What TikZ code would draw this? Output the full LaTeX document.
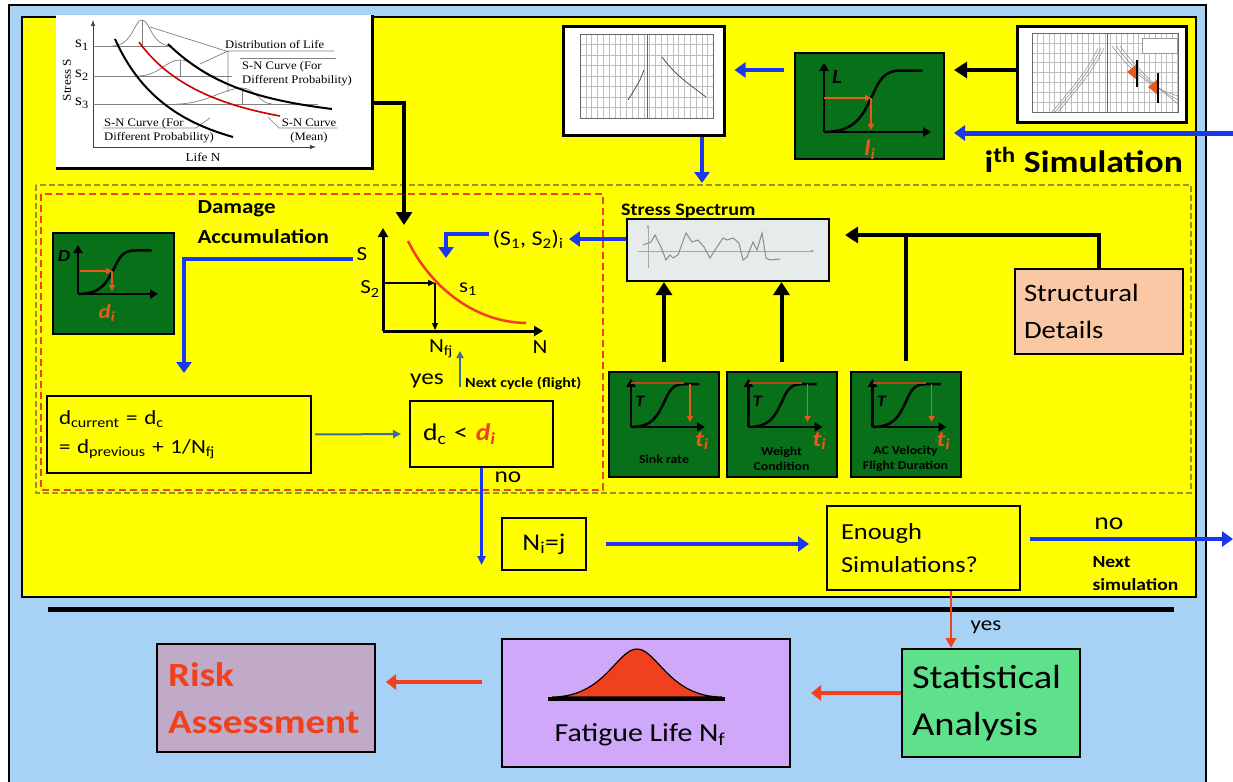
\documentclass[tikz,border=0pt]{standalone}
\usepackage{fontspec}
\setmainfont{Carlito}[FakeStretch=1.15]
\newfontfamily\chartfont{Liberation Serif}[FakeStretch=1.1]
\usetikzlibrary{arrows.meta,calc,positioning}

\definecolor{slideblue}{RGB}{168,210,245}
\definecolor{slideyellow}{RGB}{255,255,0}
\definecolor{plotgreen}{RGB}{8,112,24}
\definecolor{arrowblue}{RGB}{25,55,235}
\definecolor{steelblue2}{RGB}{60,110,150}
\definecolor{redorange}{RGB}{240,64,30}
\definecolor{peach}{RGB}{250,200,165}
\definecolor{lavender}{RGB}{208,168,250}
\definecolor{mauve}{RGB}{192,170,200}
\definecolor{statgreen}{RGB}{95,225,140}
\definecolor{specgrey}{RGB}{230,235,235}
\definecolor{olivedash}{RGB}{150,150,40}
\definecolor{markorange}{RGB}{230,90,30}

\newcommand{\fsz}[2]{\fontsize{#1}{#2}\selectfont}

\tikzset{
  box/.style={draw,line width=2pt,inner sep=0pt},
  greenbox/.style={box,fill=plotgreen},
  bluearrow/.style={draw=arrowblue,line width=4.5pt,-{Triangle[length=11pt,width=15pt]}},
  blackarrow/.style={draw=black,line width=4pt,-{Triangle[length=13pt,width=16pt]}},
  redarrow/.style={draw=redorange,line width=4.5pt,-{Triangle[length=10pt,width=15pt]}},
  markarrow/.style={draw=markorange,line width=1.5pt,-{Triangle[length=6pt,width=6pt]}},
  pics/scurve/.style={code={
    \draw[line width=2.5pt,-{Triangle[length=8pt,width=9pt]}] (0,0) -- (100,0);
    \draw[line width=2.5pt,-{Triangle[length=8pt,width=9pt]}] (0,0) -- (0,-72);
    \draw[line width=2.5pt] (0,0) .. controls (30,0) and (36,-18) .. (44,-35)
      .. controls (52,-55) and (56,-64) .. (72,-64) -- (92,-64);
  }}
}

\begin{document}
\begin{tikzpicture}[x=1pt,y=-1pt]
\useasboundingbox (0,0) rectangle (1233,781);
\fill[white] (0,0) rectangle (1233,781);
% slide frame
\draw[fill=slideblue,line width=1.5pt] (9,5) rectangle (1206,800);
\draw[fill=slideyellow,line width=2.5pt] (22,17) rectangle (1196,597);
\draw[line width=5pt] (48,609) -- (1174,609);
\draw[olivedash,line width=2.5pt,dash pattern=on 6pt off 3pt] (36,185) rectangle (1191,493);
\draw[redorange,line width=1.8pt,dash pattern=on 7pt off 4pt] (41,194) rectangle (603,490);

% S-N curve picture
\node[fill=white,inner sep=0pt,minimum width=316pt,minimum height=153pt] (snimg) at (214,91.5) {};
\draw[line width=3pt] (snimg.north east) -- (snimg.south east) -- (snimg.south west);
\begin{scope}[color=black!50,line width=0.7pt]
  \draw[black!75,-{Latex[length=6pt]}] (93,147) -- (93,20);
  \draw[black!75,-{Latex[length=6pt]}] (93,147) -- (316,147);
  \draw (93,46) -- (172,46) (93,76) -- (232,76) (93,104) -- (318,104);
  \draw (112,46) .. controls (133,46) and (134,20) .. (142,20) .. controls (150,20) and (151,46) .. (172,46);
  \draw (142,20) -- (142,46);
  \draw (137,76) .. controls (160,76) and (165,60) .. (180,60) .. controls (195,60) and (200,76) .. (215,76);
  \draw (180,60) -- (180,76);
  \draw (177,104) .. controls (205,104) and (225,88) .. (242,88) .. controls (255,88) and (260,104) .. (272,104);
  \draw (242,88) -- (242,104);
  \draw (150,27) -- (226,51) -- (334,51) (228,51) -- (228,92) (200,64) -- (228,51);
  \draw (240,58) -- (336,58);
  \draw (210,118) -- (196,128) -- (103,128);
  \draw (268,117) -- (279,128) -- (337,128);
\end{scope}
\draw[line width=2pt] (115,39) .. controls (140,95) and (180,122) .. (233,137);
\draw[red!80!black,line width=1.6pt] (139,42) .. controls (170,85) and (220,105) .. (280,116);
\draw[line width=2pt] (168,44) .. controls (210,85) and (260,100) .. (332,109);
\node[font=\chartfont\fsz{16}{18}] (sone) at (82,45) {s\textsubscript{1}};
\node[font=\chartfont\fsz{16}{18}] (stwo) at (82,75) {s\textsubscript{2}};
\node[font=\chartfont\fsz{16}{18}] (sthree) at (82,103) {s\textsubscript{3}};
\node[font=\chartfont\fsz{12}{14},rotate=90] (stresslab) at (67,80) {Stress S};
\node[font=\chartfont\fsz{12}{14}] (lifelab) at (203,157) {Life N};
\node[font=\chartfont\fsz{11.5}{13},anchor=west,inner sep=0pt] (distlab) at (225,45) {Distribution of Life};
\node[font=\chartfont\fsz{11.5}{13.5},anchor=west,align=left,inner sep=0pt] (snright) at (242,74) {S-N Curve (For\\Different Probability)};
\node[font=\chartfont\fsz{11.5}{13.5},anchor=west,align=left,inner sep=0pt] (snleft) at (104,131) {S-N Curve (For\\Different Probability)};
\node[font=\chartfont\fsz{11.5}{13.5},align=center,inner sep=0pt] (snmean) at (309,131) {S-N Curve\\(Mean)};

% acceleration plot
\node[box,line width=3pt,fill=white,minimum width=161pt,minimum height=108pt] (accimg) at (643.5,81) {};
\begin{scope}[black!25,line width=0.4pt]
  \foreach \gx in {0,...,23} \draw ({580+\gx*5.8},34) -- ({580+\gx*5.8},118);
  \foreach \gy in {0,...,8} \draw (580,{34+\gy*10.5}) -- (713,{34+\gy*10.5});
\end{scope}
\draw[black!60,line width=0.6pt] (580,34) rectangle (713,118) (647,34) -- (647,118);
\draw[black!70,line width=0.8pt] (628,100) -- (633,92) -- (640,80) -- (644,70);
\draw[black!70,line width=0.8pt] (662,57) .. controls (675,75) and (690,85) .. (706,97);

% velocity plot
\node[box,line width=3pt,fill=white,minimum width=169pt,minimum height=96pt] (velimg) at (1101.5,75) {};
\begin{scope}[black!25,line width=0.4pt]
  \foreach \gx in {0,...,26} \draw ({1032+\gx*5.6},33) -- ({1032+\gx*5.6},112);
  \foreach \gy in {0,...,8} \draw (1032,{33+\gy*9.9}) -- (1178,{33+\gy*9.9});
\end{scope}
\draw[black!60,line width=0.6pt] (1032,33) rectangle (1178,112) (1107,33) -- (1107,112);
\begin{scope}[black!45,line width=0.5pt]
  \foreach \d in {0,3,6} \draw ({1052+\d},112) .. controls ({1072+\d},88) and ({1088+\d},70) .. ({1098+\d},48);
  \foreach \d in {0,4,8} \draw ({1112+\d},46) .. controls ({1130+\d},70) and ({1150+\d},88) .. (1178,{96+\d});
\end{scope}
\draw[black!40,fill=white,line width=0.5pt] (1142,38) rectangle (1177,53);
\fill[markorange] (1127,72) -- (1137,64) -- (1137,80) -- cycle;
\draw[line width=2pt] (1137,60) -- (1137,87);
\fill[markorange] (1148,87) -- (1158,79) -- (1158,95) -- cycle;
\draw[line width=2pt] (1158,73) -- (1158,103);

% L chart
\node[greenbox,minimum width=149pt,minimum height=106pt] (lbox) at (869.5,106) {};
\pic[xscale=1.07,yscale=0.96] at (824,132) {scurve};
\draw[markarrow] (824,98) -- (871,98);
\draw[markarrow] (871,98) -- (871,130);
\node[font=\bfseries\itshape\fsz{20}{20}] (Llab) at (837,77) {L};
\node[font=\bfseries\itshape\fsz{22}{22},text=markorange] (lilab) at (870,150) {l\textsubscript{i}};
\node[font=\bfseries\fsz{31}{36},anchor=base west] (simlab) at (981,172) {i\textsuperscript{th} Simulation};

% damage chart
\node[greenbox,minimum width=121pt,minimum height=101pt] (dbox) at (113.5,283.5) {};
\pic[xscale=0.8,yscale=0.68] at (78,294) {scurve};
\draw[markarrow] (80,271) -- (112,271);
\draw[markarrow] (112,271) -- (112,291);
\node[font=\bfseries\itshape\fsz{17}{17}] (Dlab) at (64,256) {D};
\node[font=\bfseries\itshape\fsz{20}{20},text=markorange] (dilab) at (107,313) {d\textsubscript{i}};
\node[font=\bfseries\fsz{20}{30},align=left,anchor=north west] (damlab) at (194,197) {Damage\\Accumulation};

% S-N sketch
\draw[line width=3pt,-{Triangle[length=9pt,width=10pt]}] (383,331) -- (383,228);
\draw[line width=3pt,-{Triangle[length=9pt,width=10pt]}] (383,331) -- (543,331);
\draw[redorange,line width=2.5pt] (408,241) .. controls (428,282) and (470,322) .. (526,323);
\draw[line width=1.2pt,-{Triangle[length=7pt,width=6pt]}] (383,283) -- (435,283);
\draw[line width=1.2pt,-{Triangle[length=7pt,width=6pt]}] (435,283) -- (435,330);
\node[font=\fsz{20}{22}] (slab) at (362,254) {S};
\node[font=\fsz{20}{22}] (s2lab) at (370,289) {S\textsubscript{2}};
\node[font=\fsz{20}{22}] (s1lab) at (468,289) {s\textsubscript{1}};
\node[font=\fsz{20}{22}] (nfjlab) at (441,349) {N\textsubscript{fj}};
\node[font=\fsz{20}{22}] (nlab) at (540,347) {N};
\node[font=\fsz{21}{24}] (pairlab) at (528,239) {(S\textsubscript{1}, S\textsubscript{2})\textsubscript{i}};

% stress spectrum
\node[font=\bfseries\fsz{17.5}{20},anchor=base west,inner sep=0pt] (speclab) at (621,215) {Stress Spectrum};
\node[box,fill=specgrey,minimum width=202pt,minimum height=62pt] (spec) at (728,250) {};
\draw[black!35,line width=0.6pt,-{Latex[length=4pt]}] (648,268) -- (648,224);
\draw[black!35,line width=0.6pt,-{Latex[length=4pt]}] (638,251) -- (815,251);
\draw[black!45,line width=1pt] (643,245) -- (651,242) -- (655,235) -- (661,247) -- (666,260) -- (670,255)
  -- (673,258) -- (678,255) -- (686,233) -- (692,242) -- (698,240) -- (704,247) -- (710,258)
  -- (717,247) -- (723,238) -- (727,240) -- (733,238) -- (739,243) -- (743,260) -- (747,257)
  -- (753,242) -- (757,250) -- (762,233) -- (766,258) -- (770,260) -- (780,259);

\node[box,fill=peach,minimum width=168pt,minimum height=85pt,text width=150pt,align=left,font=\fsz{25}{37}] (struct) at (1099,311.5) {Structural\\Details};

% input charts
\foreach \i/\cx/\txt in {1/664/{Sink rate},2/781.5/{Weight\\Condition},3/905.5/{AC Velocity\\Flight Duration}} {
  \node[greenbox,minimum width=110pt,minimum height=105pt] (tbox\i) at (\cx,424.5) {};
  \pic[xscale=0.74,yscale=0.67] at ({\cx-33},427) {scurve};
  \draw[markorange!80!black,line width=1.5pt] ({\cx-33},383) -- ({\cx+20},383);
  \draw[markarrow] ({\cx+26},384) -- ({\cx+26},422);
  \node[font=\bfseries\itshape\fsz{16}{16}] (tlab\i) at ({\cx-24},401) {T};
  \node[font=\bfseries\itshape\fsz{22}{22},text=markorange] (tilab\i) at ({\cx+38},441) {t\textsubscript{i}};
  \node[font=\bfseries\fsz{12}{15},align=center] (tname\i) at ({\cx},459) {\txt};
}

% damage update
\node[box,minimum width=264pt,minimum height=77pt,text width=240pt,align=left,font=\fsz{20}{29}] (dcur) at (179,434.5)
  {d\textsubscript{current} = d\textsubscript{c}\\= d\textsubscript{previous} + 1/N\textsubscript{fj}};
\node[box,minimum width=143pt,minimum height=66pt,text width=117pt,align=left,font=\fsz{24}{28}] (dc) at (481.5,434)
  {d\textsubscript{c} < \textcolor{redorange}{\textbf{\textit{d\textsubscript{i}}}}};
\node[font=\bfseries\fsz{14}{16},anchor=west,inner sep=0pt] (nextc) at (465,383) {Next cycle (flight)};
\node[font=\fsz{22}{24}] (yeslab) at (427,381) {yes};
\node[font=\fsz{22}{24}] (nolab) at (508,477) {no};

\node[box,minimum width=84pt,minimum height=52pt,font=\fsz{24}{28}] (ni) at (544,544) {N\textsubscript{i}=j};
\node[box,minimum width=193pt,minimum height=84pt,text width=165pt,align=left,font=\fsz{23}{33}] (enough) at (923.5,548) {Enough\\Simulations?};
\node[font=\fsz{24}{26}] (nolab2) at (1109,524) {no};
\node[font=\bfseries\fsz{17}{23},anchor=west,align=left] (nextsim) at (1089,574) {Next\\simulation};
\node[font=\fsz{20}{22}] (yeslab2) at (986,627) {yes};

% results
\node[box,fill=statgreen,minimum width=178pt,minimum height=108pt,text width=158pt,align=left,font=\fsz{33.5}{47}] (stat) at (991,703) {Statistical\\Analysis};
\node[box,fill=lavender,minimum width=288pt,minimum height=128pt] (fat) at (646,703) {};
\filldraw[fill=redorange,draw=black,line width=1.2pt] (552,697) .. controls (605,697) and (617,649) .. (637,649)
  .. controls (657,649) and (669,697) .. (722,697) -- cycle;
\draw[line width=4.5pt] (548,699) -- (725,699);
\node[font=\fsz{26}{30}] (fatlab) at (640,735) {Fatigue Life N\textsubscript{f}};
\node[box,fill=mauve,minimum width=218pt,minimum height=108pt,text width=196pt,align=left,font=\bfseries\fsz{34}{47},text=redorange] (risk) at (266,698) {Risk\\Assessment};

% connectors
\coordinate (nextin) at (1233,133);
\coordinate (specin) at (702,183);
\coordinate (sntip) at (404,225);
\coordinate (pairtip) at (446,258);
\coordinate (acctip) at (184,373);
\coordinate (sdline) at (845,235);
\coordinate (nextout) at (1233,539);
\draw[bluearrow,shorten <=10pt,shorten >=9pt] ([yshift=36pt]lbox.west) -- ([yshift=36pt]lbox.west -| accimg.east);
\draw[blackarrow,shorten >=9pt] ([yshift=5pt]velimg.west) -- ([yshift=5pt]velimg.west -| lbox.east);
\draw[bluearrow,line width=5pt,shorten >=9pt] (nextin) -- (nextin -| lbox.east);
\draw[bluearrow] (accimg.south -| specin) -- (specin);
\draw[blackarrow] ([yshift=-12pt]snimg.east) -| (sntip);
\draw[bluearrow,shorten >=2pt] (spec.west |- pairlab.east) -- (pairlab.east);
\draw[bluearrow] ([yshift=5pt]pairlab.west) -| (pairtip);
\draw[bluearrow] ([yshift=-5pt]slab.west) -| (acctip);
\draw[blackarrow,shorten <=9pt] (tbox1.north) -- (tbox1.north |- spec.south);
\draw[blackarrow,shorten <=9pt] (tbox2.north) -- (tbox2.north |- spec.south);
\draw[line width=4pt,shorten <=10pt] (tbox3.north) -- (tbox3.north |- sdline);
\draw[blackarrow] (struct.north) |- (sdline);
\draw[steelblue2,line width=2pt,-{Triangle[length=8pt,width=8pt]},shorten <=3pt,shorten >=8pt] (dcur.east) -- (dc.west);
\draw[steelblue2,line width=2pt,-{Triangle[length=7pt,width=7pt]}] ([shift={(-5pt,-4pt)}]nextc.west) -- ([shift={(-5pt,32pt)}]nextc.west);
\draw[arrowblue,line width=2.5pt,-{Triangle[length=9pt,width=8pt]}] (dc.south) -- ++(0,97);
\draw[bluearrow,shorten <=19pt,shorten >=17pt] (ni.east) -- (ni.east -| enough.west);
\draw[bluearrow,shorten <=9pt] ([yshift=9pt]enough.east) -- (nextout);
\draw[redorange,line width=2.5pt,-{Triangle[length=10pt,width=10pt]}] ([xshift=27.5pt]enough.south) -- ([xshift=27.5pt]enough.south |- stat.north);
\draw[redarrow,shorten >=20pt] ([yshift=10pt]stat.west) -- ([yshift=10pt]stat.west -| fat.east);
\draw[redarrow,shorten <=19pt,shorten >=10pt] ([yshift=21pt]fat.west) -- ([yshift=21pt]fat.west -| risk.east);
\end{tikzpicture}
\end{document}
